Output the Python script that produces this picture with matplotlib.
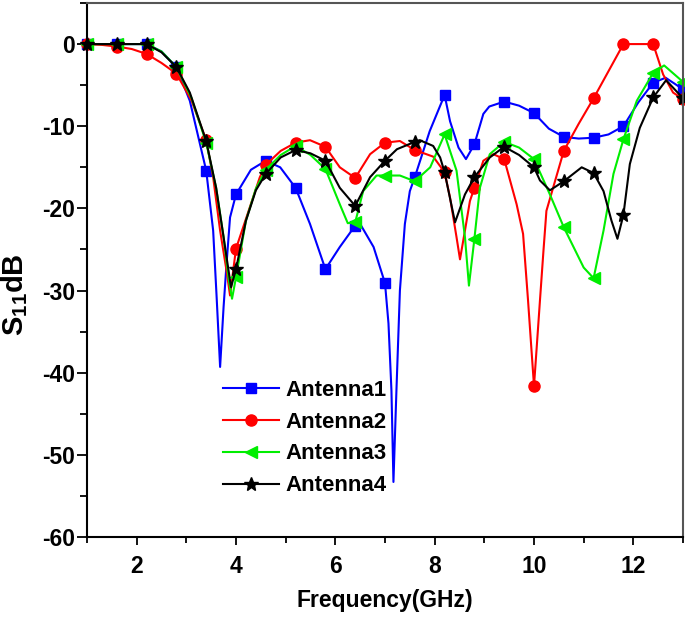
import numpy as np
import matplotlib
matplotlib.use("Agg")
import matplotlib.pyplot as plt
from matplotlib.ticker import MultipleLocator

plt.rcParams['font.family'] = ['Liberation Sans', 'DejaVu Sans']
plt.rcParams['font.weight'] = 'bold'
plt.rcParams['mathtext.fontset'] = 'custom'
plt.rcParams['mathtext.rm'] = 'Liberation Sans:bold'
plt.rcParams['mathtext.default'] = 'rm'
plt.rcParams['axes.unicode_minus'] = False

# ---- data (frequency in GHz, S11 in dB) ----
marker_grid_start = 1.0
marker_grid_step = 0.6

ant1_x = [1.0, 1.6, 2.2, 2.5, 2.8, 3.07, 3.4, 3.54, 3.61, 3.68, 3.75, 3.81, 3.88, 4.0,
          4.3, 4.6, 4.89, 5.2, 5.49, 5.8, 6.09, 6.4, 6.5, 6.77, 7.0, 7.07, 7.13, 7.17,
          7.23, 7.3, 7.4, 7.5, 7.6, 7.9, 8.2, 8.31, 8.48, 8.63, 8.8, 8.98, 9.1, 9.4, 9.7,
          10.0, 10.3, 10.6, 10.9, 11.2, 11.5, 11.8, 12.1, 12.4, 12.65, 13.0]
ant1_y = [0, 0, 0, -0.9, -2.8, -6.9, -15.4, -22.7, -30.8, -39.3, -32.0, -26.7, -21.1, -18.3,
          -15.3, -14.2, -15.0, -17.5, -21.9, -27.4, -24.7, -22.1, -21.9, -24.7, -29.1, -34.0,
          -42.2, -53.3, -42.2, -30.0, -21.9, -17.9, -16.2, -10.6, -6.2, -9.4, -12.6, -14.0,
          -12.2, -8.5, -7.6, -7.0, -7.5, -8.4, -10.3, -11.3, -11.5, -11.4, -11.0, -10.0,
          -7.1, -4.7, -4.1, -5.5]

ant2_x = [1.0, 1.3, 1.6, 1.9, 2.2, 2.5, 2.8, 3.1, 3.4, 3.54, 3.68, 3.81, 3.88, 4.0, 4.21,
          4.48, 4.6, 4.9, 5.2, 5.49, 5.8, 6.09, 6.4, 6.7, 7.0, 7.3, 7.6, 7.97, 8.2, 8.31,
          8.44, 8.51, 8.61, 8.71, 8.8, 8.98, 9.18, 9.4, 9.65, 9.78, 9.88, 9.95, 10.0, 10.05,
          10.12, 10.19, 10.25, 10.6, 10.9, 11.2, 11.5, 11.8, 12.1, 12.4, 12.6, 12.8, 13.0]
ant2_y = [0, -0.1, -0.3, -0.6, -1.2, -2.3, -3.6, -6.8, -11.7, -16.2, -22.7, -27.6, -30.6,
          -24.9, -21.1, -16.2, -14.7, -13.0, -12.0, -11.7, -12.5, -15.0, -16.3, -13.4, -12.0,
          -11.8, -12.9, -13.7, -15.6, -18.7, -23.5, -26.2, -22.7, -19.1, -17.5, -14.2, -13.4,
          -14.0, -19.5, -23.1, -31.2, -37.3, -41.6, -37.3, -31.2, -25.2, -20.3, -13.0, -9.7,
          -6.6, -3.3, 0, 0, 0, -3.7, -5.9, -6.7]

ant3_x = [1.0, 1.6, 2.2, 2.5, 2.8, 3.1, 3.4, 3.6, 3.75, 3.85, 3.92, 4.0, 4.2, 4.4, 4.6, 4.9,
          5.2, 5.5, 5.8, 6.09, 6.25, 6.4, 6.56, 6.83, 7.0, 7.3, 7.6, 7.91, 8.2, 8.44, 8.61,
          8.69, 8.8, 8.91, 9.11, 9.4, 9.7, 10.0, 10.32, 10.6, 11.0, 11.2, 11.4, 11.6, 11.8,
          12.07, 12.4, 12.62, 13.0]
ant3_y = [0, 0, 0, -0.9, -2.8, -6.5, -12.0, -17.5, -23.5, -28.5, -31.0, -28.4, -21.5, -17.6,
          -15.3, -13.5, -12.4, -13.5, -15.2, -19.5, -21.8, -21.7, -17.9, -16.0, -16.0, -16.0,
          -16.7, -15.0, -11.0, -15.4, -23.5, -29.4, -23.7, -17.5, -13.4, -11.9, -12.6, -14.0,
          -18.3, -22.3, -27.2, -28.5, -22.7, -15.8, -11.6, -6.9, -3.5, -2.6, -4.6]

ant4_x = [1.0, 1.6, 2.2, 2.5, 2.8, 3.07, 3.4, 3.6, 3.75, 3.9, 4.0, 4.2, 4.4, 4.6, 4.9, 5.2,
          5.5, 5.8, 6.09, 6.4, 6.7, 7.0, 7.24, 7.6, 7.7, 7.97, 8.11, 8.2, 8.41, 8.61, 8.8,
          9.11, 9.4, 9.7, 10.0, 10.12, 10.32, 10.6, 10.96, 11.2, 11.4, 11.56, 11.68, 11.8,
          11.93, 12.13, 12.4, 12.66, 13.0]
ant4_y = [0, 0, 0, -1.0, -2.8, -5.9, -11.8, -17.5, -23.5, -29.6, -27.4, -21.5, -17.8, -15.8,
          -13.8, -12.9, -13.3, -14.2, -17.5, -19.7, -16.2, -14.2, -12.8, -11.9, -11.7, -12.4,
          -13.8, -15.6, -21.7, -18.3, -16.2, -13.8, -12.5, -13.5, -15.0, -16.6, -17.8, -16.7,
          -15.0, -15.7, -17.9, -21.5, -23.7, -20.8, -14.6, -10.2, -6.5, -4.4, -6.6]

series_names = ["Antenna1", "Antenna2", "Antenna3", "Antenna4"]
series_x = [ant1_x, ant2_x, ant3_x, ant4_x]
series_y = [ant1_y, ant2_y, ant3_y, ant4_y]
series_colors = ["#0000FF", "#FF0000", "#00EE00", "#000000"]
series_markers = ["s", "o", "<", "*"]
series_msize = [7, 8, 9, 10]

x_ticks = [2, 4, 6, 8, 10, 12]
y_ticks = [0, -10, -20, -30, -40, -50, -60]

fig = plt.figure(figsize=(6.85, 6.17), dpi=100)
ax = fig.add_axes([87 / 685, 1 - 537 / 617, 596 / 685, 534 / 617])

for name, xs, ys, c, m, ms in zip(series_names, series_x, series_y, series_colors,
                                  series_markers, series_msize):
    xs = np.asarray(xs, dtype=float)
    k = (xs - marker_grid_start) / marker_grid_step
    idx = list(np.where(np.isclose(k, np.round(k), atol=1e-6))[0])
    ax.plot(xs, ys, color=c, lw=1.5, marker=m, markersize=ms, markevery=idx,
            markeredgecolor=c, markerfacecolor=c, label=name, clip_on=False)

ax.set_xlim(1, 13)
ax.set_ylim(-60, 5)
ax.set_xticks(x_ticks)
ax.set_yticks(y_ticks)
ax.xaxis.set_minor_locator(MultipleLocator(1))
ax.yaxis.set_minor_locator(MultipleLocator(5))
ax.tick_params(axis='both', which='both', direction='out', width=1.3, labelsize=16.5)
ax.tick_params(axis='x', which='major', length=6, pad=7)
ax.tick_params(axis='x', which='minor', length=4.5)
ax.tick_params(axis='y', which='major', length=7, pad=1.5)
ax.tick_params(axis='y', which='minor', length=5)
for lab in ax.get_xticklabels() + ax.get_yticklabels():
    lab.set_fontweight('bold')

for sp in ax.spines.values():
    sp.set_linewidth(1.5)
ax.spines['top'].set_color('#555555')
ax.spines['right'].set_color('#555555')

ax.set_xlabel("Frequency(GHz)", fontsize=16.5, fontweight='bold', labelpad=8)
ax.set_ylabel("S$_{11}$dB", fontsize=21, fontweight='bold')
ax.yaxis.set_label_coords(-0.095, 0.453)

leg = ax.legend(loc='lower left', bbox_to_anchor=(0.202, 0.047), frameon=False,
                fontsize=16, handlelength=2.5, handletextpad=0.3, labelspacing=0.49,
                borderpad=0.2)
for t in leg.get_texts():
    t.set_fontweight('bold')

fig.savefig("out.png", dpi=100)
